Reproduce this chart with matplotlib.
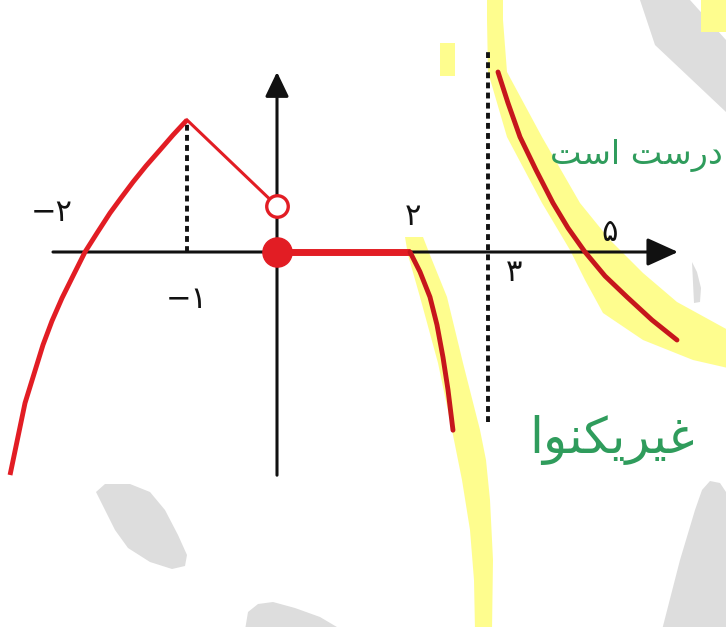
import numpy as np
import matplotlib.pyplot as plt
from matplotlib.patches import Polygon

plt.rcParams['font.family'] = ['DejaVu Sans']

# the sketch is not drawn to scale: where each x value sits along the axis
knot_x = [-3, -2, -1, 0, 2, 3, 5, 8]
knot_px = [-17, 85, 187, 277, 410, 488, 585, 726]

# branch rising to the corner at x = -1
left_x = [-2.735, -2.588, -2.412, -2.324, -2.225, -2.118, -2.0, -1.882, -1.755, -1.647,
          -1.529, -1.402, -1.265, -1.137, -1.0]
left_y = [-2.478, -1.678, -1.033, -0.767, -0.511, -0.267, 0.0, 0.211, 0.433, 0.60,
          0.778, 0.956, 1.133, 1.30, 1.467]

# straight piece from the corner down to the hole on the y axis
seg_x = [-1.0, 0.0]
seg_y = [1.467, 0.51]
hole_x, hole_y = 0.0, 0.51
dot_x, dot_y = 0.0, 0.0

# constant piece on [0, 2]
flat_x = [0.0, 2.0]
flat_y = [0.0, 0.0]

# branch falling from x = 2 towards the asymptote x = 3
mid_x = [2.0, 2.128, 2.256, 2.346, 2.423, 2.487, 2.551]
mid_y = [0.0, -0.22, -0.50, -0.81, -1.17, -1.53, -1.98]

# branch to the right of the asymptote, crossing at x = 5
right_x = [3.206, 3.412, 3.66, 3.99, 4.34, 4.649, 5.0, 5.426, 5.894, 6.426, 6.957]
right_y = [2.0, 1.656, 1.278, 0.911, 0.544, 0.267, 0.0, -0.267, -0.50, -0.756, -0.978]

asym_x = 3
asym_y = [-1.89, 2.27]

tick_text = ['−۲', '−۱', '۲', '۳', '۵']
tick_pos = [(-2.33, 0.44), (-1.0, -0.53), (2.04, 0.39), (3.54, -0.23), (5.53, 0.22)]

# highlighter strokes, in pixels (outline of each stroke)
hl_strokes = [
    [(405, 237), (408, 255), (420, 297), (438, 363), (452, 430), (462, 480), (470, 530),
     (474, 580), (475, 630), (492, 630), (493, 560), (490, 500), (486, 460), (480, 430),
     (463, 363), (447, 297), (430, 255), (423, 237)],
    [(487, -2), (487, 20), (488, 72), (507, 137), (542, 203), (570, 250), (585, 280),
     (603, 313), (643, 340), (693, 360), (728, 368), (728, 330), (677, 302), (643, 273),
     (610, 240), (580, 203), (542, 137), (507, 72), (503, 20), (503, -2)],
    [(440, 43), (455, 43), (455, 76), (440, 76)],
    [(701, 0), (726, 0), (726, 32), (701, 32)],
]

# grey watermark pieces, in pixels
marks = [
    [(640, 0), (690, 0), (726, 40), (726, 112), (690, 78), (655, 45)],
    [(96, 492), (105, 484), (130, 484), (150, 492), (165, 510), (178, 535), (187, 555),
     (185, 566), (172, 569), (150, 562), (128, 548), (115, 530), (105, 510)],
    [(245, 630), (248, 612), (258, 604), (273, 602), (295, 608), (320, 617), (342, 630)],
    [(662, 630), (680, 560), (695, 510), (702, 490), (710, 481), (720, 483), (726, 492), (726, 630)],
    [(692, 262), (697, 272), (701, 288), (700, 302), (694, 303)],
]

RED = '#e21d24'
DARK_RED = '#c6161c'
YELLOW = '#fefd8e'
INK = '#111111'
GREEN = '#2f9c5c'


def fwd(v):
    return np.interp(v, knot_x, knot_px)


def inv(p):
    return np.interp(p, knot_px, knot_x)


def main():
    fig = plt.figure(figsize=(7.26, 6.27), dpi=100)

    deco = fig.add_axes([0, 0, 1, 1])
    deco.set_xlim(0, 726)
    deco.set_ylim(627, 0)
    deco.axis('off')
    for pts in marks:
        deco.add_patch(Polygon(pts, closed=True, facecolor='#dddddd', edgecolor='none'))
    for pts in hl_strokes:
        deco.add_patch(Polygon(pts, closed=True, facecolor=YELLOW, edgecolor='none'))

    # handwritten notes (shaped glyphs, laid out left to right)
    deco.text(723, 156, '\uFE96\uFEB3\uFE8D \uFE96\uFEB3\uFEAD\uFEA9', color=GREEN, fontsize=24,
              ha='right', va='center')
    deco.text(612, 440, '\uFE8D\uFEEE\uFEE8\uFB91\uFEF3\uFEAE\uFEF4\uFECF', color=GREEN, fontsize=36,
              ha='center', va='center')

    ax = fig.add_axes([0, 0, 1, 1], facecolor='none')
    ax.set_xscale('function', functions=(fwd, inv))
    ax.set_xlim(inv(0), inv(726))
    ax.set_ylim(-4.1667, 2.8)
    ax.axis('off')

    # axes with arrow heads
    ax.annotate('', xy=(6.98, 0), xytext=(-2.314, 0),
                arrowprops=dict(arrowstyle='-|>,head_length=0.95,head_width=0.43', mutation_scale=20,
                                lw=2.2, color=INK, shrinkA=0, shrinkB=0), zorder=3)
    ax.annotate('', xy=(0, 2.0), xytext=(0, -2.48),
                arrowprops=dict(arrowstyle='-|>,head_length=0.75,head_width=0.36', mutation_scale=20,
                                lw=2.2, color=INK, shrinkA=0, shrinkB=0), zorder=3)

    # dashed guides
    ax.plot([-1, -1], [0, left_y[-1]], color=INK, lw=2.8, linestyle=(0, (1.5, 1.1)), zorder=3)
    ax.plot([asym_x, asym_x], asym_y, color=INK, lw=2.8, linestyle=(0, (1.5, 1.1)), zorder=3)

    # the function
    ax.plot(left_x, left_y, color=RED, lw=3.5, solid_capstyle='butt', zorder=4)
    ax.plot(seg_x, seg_y, color=RED, lw=2.2, zorder=4)
    ax.plot(flat_x, flat_y, color=RED, lw=5, solid_capstyle='butt', zorder=4)
    ax.plot(mid_x, mid_y, color=DARK_RED, lw=3.5, solid_capstyle='round', zorder=4)
    ax.plot(right_x, right_y, color=DARK_RED, lw=3.5, solid_capstyle='round', zorder=4)
    ax.plot([hole_x], [hole_y], 'o', ms=15.5, mfc='white', mec=RED, mew=2.4, zorder=5)
    ax.plot([dot_x], [dot_y], 'o', ms=21, mfc=RED, mec=RED, zorder=5)

    for txt, (tx, ty) in zip(tick_text, tick_pos):
        ax.text(tx, ty, txt, fontsize=22, color=INK, ha='center', va='center', zorder=6)

    fig.savefig('out.png', dpi=100)
    plt.close(fig)


if __name__ == '__main__':
    main()
